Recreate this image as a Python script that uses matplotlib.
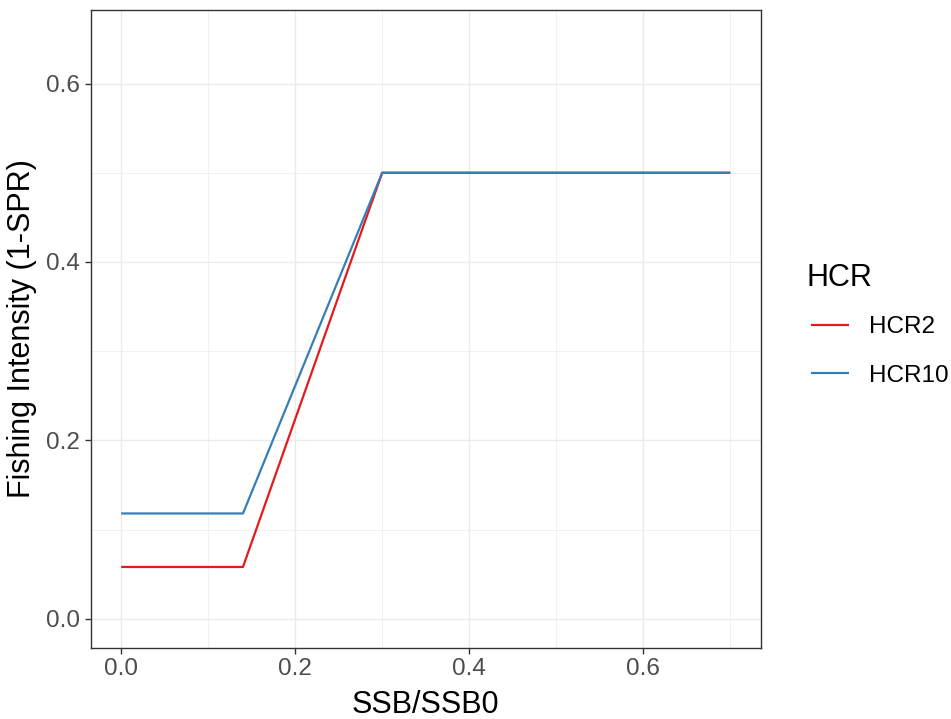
import numpy as np
import matplotlib
matplotlib.use("Agg")
import matplotlib.pyplot as plt
from matplotlib.ticker import MultipleLocator

# ---------------- Data ----------------
ssb = [0.0, 0.14, 0.30, 0.70]
hcr2 = [0.058, 0.058, 0.50, 0.50]
hcr10 = [0.118, 0.118, 0.50, 0.50]
series_names = ["HCR2", "HCR10"]
series_colors = ["#E41A1C", "#377EB8"]

plt.rcParams['font.family'] = ['Liberation Sans', 'DejaVu Sans']

fig = plt.figure(figsize=(9.51, 7.19), dpi=100)
ax = fig.add_axes([90.7 / 951, 1 - 647.7 / 719, 670 / 951, 637.7 / 719])

for name, vals, col in zip(series_names, [hcr2, hcr10], series_colors):
    ax.plot(ssb, vals, color=col, lw=1.6, label=name, solid_capstyle='butt')

ax.set_xlim(-0.035, 0.735)
ax.set_ylim(-0.0325, 0.6825)
ax.xaxis.set_major_locator(MultipleLocator(0.2))
ax.xaxis.set_minor_locator(MultipleLocator(0.1))
ax.yaxis.set_major_locator(MultipleLocator(0.2))
ax.yaxis.set_minor_locator(MultipleLocator(0.1))
ax.xaxis.set_major_formatter(plt.FuncFormatter(lambda v, p: f"{v:.1f}"))
ax.yaxis.set_major_formatter(plt.FuncFormatter(lambda v, p: f"{v:.1f}"))

# ggplot theme_bw look
ax.set_axisbelow(True)
ax.grid(which='major', color='#EBEBEB', lw=1.0)
ax.grid(which='minor', color='#EBEBEB', lw=0.5)
for s in ax.spines.values():
    s.set_color('#333333')
    s.set_linewidth(1.0)
ax.tick_params(which='major', length=4.5, width=1.0, color='#333333',
               labelsize=17.5, labelcolor='#4D4D4D', pad=3)
ax.tick_params(which='minor', length=0)

ax.set_xlabel("SSB/SSB0", fontsize=22, labelpad=7)
ax.set_ylabel("Fishing Intensity (1-SPR)", fontsize=22, labelpad=7)

# legend: title drawn separately so the gap matches ggplot
fig.text(806.7 / 951, 1 - 286 / 719, "HCR", fontsize=22, va='baseline', ha='left')
leg = fig.legend(loc='center left', bbox_to_anchor=(810.7 / 951, 1 - 351.5 / 719),
                 frameon=False, fontsize=17.5, borderpad=0, borderaxespad=0,
                 handlelength=1.56, handletextpad=0.82, labelspacing=1.08)

fig.savefig("out.png", dpi=100)
